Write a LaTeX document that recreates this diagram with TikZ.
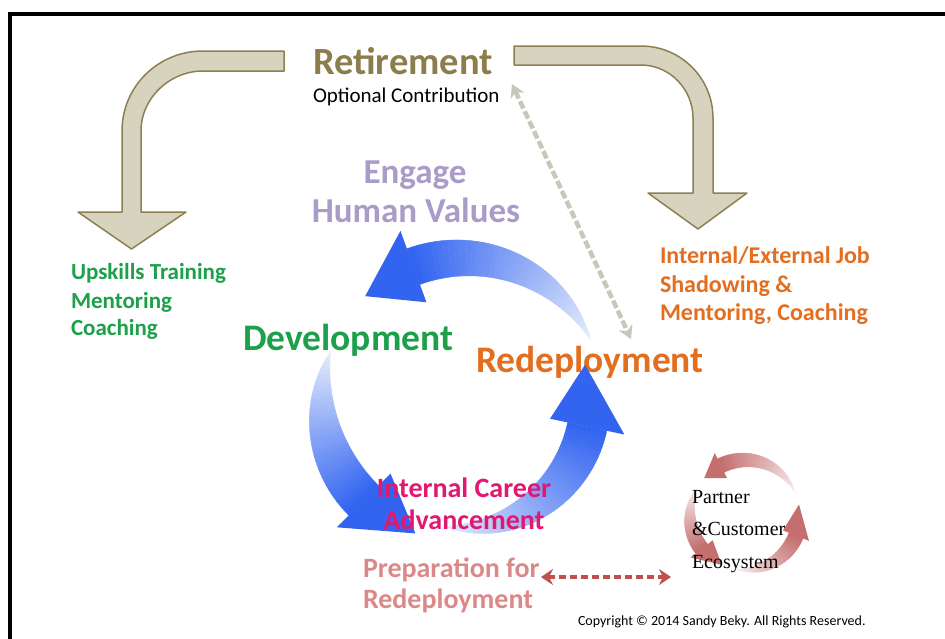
\documentclass[tikz,border=0pt]{standalone}
\usepackage{fontspec}
\setmainfont{Carlito}
\newfontfamily\partnerfont{Liberation Serif}
\usetikzlibrary{arrows.meta}
\definecolor{khakifill}{RGB}{216,211,190}
\definecolor{khakiline}{RGB}{140,128,82}
\definecolor{retcol}{RGB}{140,126,76}
\definecolor{lavcol}{RGB}{170,156,200}
\definecolor{greencol}{RGB}{28,160,74}
\definecolor{orangecol}{RGB}{228,110,32}
\definecolor{magcol}{RGB}{226,24,112}
\definecolor{prepcol}{RGB}{220,136,136}
\definecolor{arrowblue}{RGB}{50,100,240}
\definecolor{partred}{RGB}{196,110,110}
\definecolor{graydashc}{RGB}{200,199,186}
\definecolor{reddashc}{RGB}{192,80,77}
\newcommand\gradarrow[9]{%
  \foreach \k in {1,...,40}{%
    \pgfmathsetmacro\ta{(\k-1)/40}%
    \pgfmathsetmacro\tb{\k/40}%
    \pgfmathsetmacro\aA{#4+\ta*(#5-#4)}%
    \pgfmathsetmacro\aB{#4+\tb*(#5-#4)}%
    \pgfmathsetmacro\wA{#7*\ta*(2-\ta)/2}%
    \pgfmathsetmacro\wB{#7*\tb*(2-\tb)/2}%
    \pgfmathsetmacro\pc{10+90*\tb}%
    \filldraw[#9!\pc!white, line width=0.4pt, line join=round]
      ({#1+(#3+\wA)*cos(\aA)},{#2-(#3+\wA)*sin(\aA)}) --
      ({#1+(#3+\wB)*cos(\aB)},{#2-(#3+\wB)*sin(\aB)}) --
      ({#1+(#3-\wB)*cos(\aB)},{#2-(#3-\wB)*sin(\aB)}) --
      ({#1+(#3-\wA)*cos(\aA)},{#2-(#3-\wA)*sin(\aA)}) -- cycle;
  }%
  \fill[#9] ({#1+(#3+#8)*cos(#5)},{#2-(#3+#8)*sin(#5)}) --
    ({#1+#3*cos(#6)},{#2-#3*sin(#6)}) --
    ({#1+(#3-#8)*cos(#5)},{#2-(#3-#8)*sin(#5)}) -- cycle;
}
\tikzset{
  txt/.style={inner sep=0pt, outer sep=0pt},
  bentarrow/.style={fill=khakifill, draw=khakiline, line width=1.5pt, line join=round},
  graydash/.style={draw=graydashc, line width=4.5pt, dash pattern=on 8pt off 3pt,
     {Stealth[length=13pt,width=15pt]}-{Stealth[length=13pt,width=15pt]}},
  reddash/.style={draw=reddashc, line width=3.5pt, dash pattern=on 7pt off 4pt,
     {Stealth[length=12pt,width=16pt,inset=4pt]}-{Stealth[length=12pt,width=16pt,inset=4pt]}},
}
\begin{document}
\begin{tikzpicture}[x=1pt,y=-1pt]
\useasboundingbox (0,0) rectangle (945,638);
\fill[white] (0,0) rectangle (945,638);
% frame
\draw[line width=4pt] (10,640) -- (10,14) -- (947,14);

% left bent arrow
\draw[bentarrow] (284,51) -- (203,51) .. controls (158.3,51) and (122,86.3) .. (122,131)
  -- (122,212) -- (78,212) -- (131.5,249) -- (186,212) -- (141,212) -- (141,131)
  .. controls (141,97.9) and (169.9,71) .. (203,71) -- (284,71) -- cycle;
% right bent arrow
\draw[bentarrow] (514,46) -- (641,46) .. controls (680.8,46) and (713,78.2) .. (713,118)
  -- (713,193) -- (747,193) -- (698,229) -- (648,193) -- (693,193) -- (693,118)
  .. controls (693,89.3) and (669.7,65) .. (641,65) -- (514,65) -- cycle;

% Redeployment (under arrow tip)
\node[txt, anchor=base west, text=orangecol, font=\bfseries\fontsize{37.5}{40}\selectfont] (redep) at (476,372) {Redeployment};

% blue cycle arrows
\gradarrow{462}{400}{142}{25}{110}{133}{38}{38}{arrowblue}
\gradarrow{464}{400}{142}{160}{225}{250}{42}{38}{arrowblue}
\gradarrow{462}{400}{128}{262}{348}{376}{40}{38}{arrowblue}

% partner cycle arrows
\gradarrow{745}{515}{55}{25}{116}{138}{15}{14}{partred}
\gradarrow{745}{515}{55}{262}{338}{371}{15}{14}{partred}
\gradarrow{745}{515}{55}{152}{218}{245}{15}{14}{partred}

% texts
\node[txt, anchor=base, text=retcol, font=\bfseries\fontsize{38.5}{40}\selectfont] (ret) at (403,74) {Retirement};
\node[txt, anchor=base west, font=\fontsize{21}{24}\selectfont] (opt) at (313,102) {Optional Contribution};
\node[txt, anchor=base, text=lavcol, font=\bfseries\fontsize{35}{38}\selectfont] (eng) at (415,183) {Engage};
\node[txt, anchor=base, text=lavcol, font=\bfseries\fontsize{35}{38}\selectfont] (hum) at (416,222) {Human Values};
\node[txt, anchor=base west, text=greencol, font=\bfseries\fontsize{23}{26}\selectfont] (up1) at (71,279) {Upskills Training};
\node[txt, anchor=base west, text=greencol, font=\bfseries\fontsize{23}{26}\selectfont] (up2) at (71,308) {Mentoring};
\node[txt, anchor=base west, text=greencol, font=\bfseries\fontsize{23}{26}\selectfont] (up3) at (71,335) {Coaching};
\node[txt, anchor=base west, text=greencol, font=\bfseries\fontsize{37.5}{40}\selectfont] (dev) at (243,350) {Development};
\node[txt, anchor=base west, text=orangecol, font=\bfseries\fontsize{24}{27}\selectfont] (ie1) at (660,263) {Internal/External Job};
\node[txt, anchor=base west, text=orangecol, font=\bfseries\fontsize{24}{27}\selectfont] (ie2) at (660,292) {Shadowing \&};
\node[txt, anchor=base west, text=orangecol, font=\bfseries\fontsize{24}{27}\selectfont] (ie3) at (660,320) {Mentoring, Coaching};
\node[txt, anchor=base, text=magcol, font=\bfseries\fontsize{28}{30}\selectfont] (ic1) at (464,497) {Internal Career};
\node[txt, anchor=base, text=magcol, font=\bfseries\fontsize{28}{30}\selectfont] (ic2) at (464,529) {Advancement};
\node[txt, anchor=base west, text=prepcol, font=\bfseries\fontsize{28}{30}\selectfont] (pr1) at (363,577) {Preparation for};
\node[txt, anchor=base west, text=prepcol, font=\bfseries\fontsize{28}{30}\selectfont] (pr2) at (363,608) {Redeployment};
\node[txt, anchor=base west, font=\partnerfont\fontsize{20}{22}\selectfont] (pa1) at (692,503) {Partner};
\node[txt, anchor=base west, font=\partnerfont\fontsize{20}{22}\selectfont] (pa2) at (692,535) {\&Customer};
\node[txt, anchor=base west, font=\partnerfont\fontsize{20}{22}\selectfont] (pa3) at (692,568) {Ecosystem};
\node[txt, anchor=base west, font=\fontsize{14}{16}\selectfont] (copy) at (578,625) {Copyright © 2014 Sandy Beky. All Rights Reserved.};

% dashed connectors
\coordinate (gA) at (512,84);
\coordinate (gB) at (631,339);
\draw[graydash] (gA) -- (gB);
\coordinate (rA) at (541,577);
\coordinate (rB) at (671,577);
\draw[reddash] (rA) -- (rB);
\end{tikzpicture}
\end{document}
